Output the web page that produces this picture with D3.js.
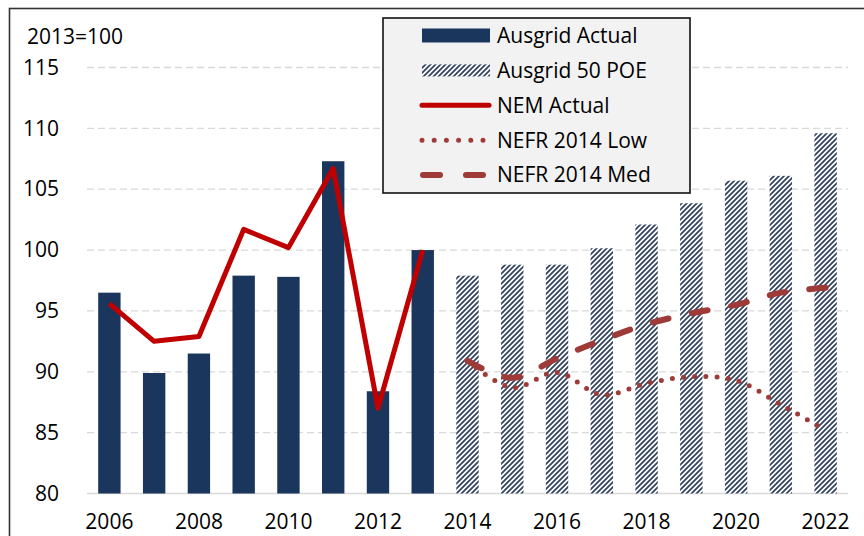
<!DOCTYPE html>
<html>
<head>
<meta charset="utf-8">
<script src="https://cdn.jsdelivr.net/npm/d3@7"></script>
<style>
  html, body { margin: 0; padding: 0; background: #ffffff; }
  svg { display: block; }
  text { font-family: "Open Sans", Lato, sans-serif; fill: #000; }
</style>
</head>
<body>
<svg id="chart" width="864" height="536"></svg>
<script>
// ---- data ----
const years = ["2006","2007","2008","2009","2010","2011","2012","2013","2014","2015","2016","2017","2018","2019","2020","2021","2022"];
const actualYears = ["2006","2007","2008","2009","2010","2011","2012","2013"];
const forecastYears = ["2014","2015","2016","2017","2018","2019","2020","2021","2022"];
const ausgridActual = [96.5, 89.9, 91.5, 97.9, 97.8, 107.3, 88.4, 100.0];
const ausgrid50POE = [97.9, 98.8, 98.8, 100.15, 102.1, 103.85, 105.7, 106.1, 109.6];
const nemActual = [95.6, 92.5, 92.9, 101.7, 100.2, 106.7, 87.0, 100.0];
const nefrLow = [90.9, 88.7, 89.95, 88.1, 89.05, 89.6, 89.3, 87.3, 85.2];
const nefrMed = [90.9, 89.5, 91.1, 92.6, 93.9, 94.8, 95.5, 96.5, 96.9];
const yTicks = [80, 85, 90, 95, 100, 105, 110, 115];
const xTickLabels = ["2006","2008","2010","2012","2014","2016","2018","2020","2022"];
const legendItems = ["Ausgrid Actual", "Ausgrid 50 POE", "NEM Actual", "NEFR 2014 Low", "NEFR 2014 Med"];

// ---- styles ----
const navy = "#1b365d";
const red = "#c00000";
const brown = "#9e3a38";
const FONT = "\"Open Sans\", Lato, sans-serif";
const FS = "21px";

const svg = d3.select("#chart");

// hatch pattern
const defs = svg.append("defs");
const pat = defs.append("pattern")
  .attr("id", "hatch")
  .attr("patternUnits", "userSpaceOnUse")
  .attr("width", 5).attr("height", 5);
pat.append("rect").attr("width", 5).attr("height", 5).attr("fill", "#ffffff");
pat.append("path")
  .attr("d", "M-1,1 l2,-2 M0,5 l5,-5 M4,6 l2,-2")
  .attr("stroke", "#34445e").attr("stroke-width", 1.8);

// outer frame
svg.append("rect")
  .attr("x", 9.5).attr("y", 8.5).attr("width", 900).attr("height", 600)
  .attr("fill", "none").attr("stroke", "#333").attr("stroke-width", 1.6);

// scales
const x = d3.scaleBand().domain(years).range([87, 848]).paddingInner(0.5).paddingOuter(0.25);
const y = d3.scaleLinear().domain([80, 115]).range([493.5, 67.5]);

// gridlines
svg.append("g").selectAll("line").data(yTicks).join("line")
  .attr("x1", 87).attr("x2", 848)
  .attr("y1", d => y(d)).attr("y2", d => y(d))
  .attr("stroke", "#d9d9d9").attr("stroke-width", 1.3)
  .attr("stroke-dasharray", d => d === 80 ? null : "7,4");

// y axis labels
const yAxis = d3.axisLeft(y).tickValues(yTicks).tickSize(0).tickPadding(0);
const gy = svg.append("g").attr("transform", "translate(59,0)").call(yAxis);
gy.select(".domain").remove();
gy.selectAll("text").style("font-size", FS).style("font-family", FONT).attr("fill", "#000");

// x axis labels
const xAxis = d3.axisBottom(x).tickValues(xTickLabels).tickSize(0).tickPadding(0);
const gx = svg.append("g").attr("transform", "translate(0,514)").call(xAxis);
gx.select(".domain").remove();
gx.selectAll("text").style("font-size", FS).style("font-family", FONT).attr("fill", "#000");

// title
svg.append("text").attr("x", 27).attr("y", 44).style("font-size", FS).style("font-family", FONT).text("2013=100");

// bars
svg.append("g").selectAll("rect").data(actualYears.map((yr, i) => ({yr, v: ausgridActual[i]}))).join("rect")
  .attr("x", d => x(d.yr)).attr("width", x.bandwidth())
  .attr("y", d => y(d.v)).attr("height", d => y(80) - y(d.v))
  .attr("fill", navy);
svg.append("g").selectAll("rect").data(forecastYears.map((yr, i) => ({yr, v: ausgrid50POE[i]}))).join("rect")
  .attr("x", d => x(d.yr)).attr("width", x.bandwidth())
  .attr("y", d => y(d.v)).attr("height", d => y(80) - y(d.v))
  .attr("fill", "url(#hatch)");

const cx = yr => x(yr) + x.bandwidth() / 2;

// NEM actual
const lineStraight = d3.line().x(d => cx(d.yr)).y(d => y(d.v));
svg.append("path")
  .datum(actualYears.map((yr, i) => ({yr, v: nemActual[i]})))
  .attr("d", lineStraight)
  .attr("fill", "none").attr("stroke", red).attr("stroke-width", 5)
  .attr("stroke-linejoin", "round");

// NEFR lines (smoothed)
const lineSmooth = d3.line().x(d => cx(d.yr)).y(d => y(d.v)).curve(d3.curveCatmullRom.alpha(0.5));
svg.append("path")
  .datum(forecastYears.map((yr, i) => ({yr, v: nefrLow[i]})))
  .attr("d", lineSmooth)
  .attr("fill", "none").attr("stroke", brown).attr("stroke-width", 5)
  .attr("stroke-linecap", "round").attr("stroke-dasharray", "0,11.2");
svg.append("path")
  .datum(forecastYears.map((yr, i) => ({yr, v: nefrMed[i]})))
  .attr("d", lineSmooth)
  .attr("fill", "none").attr("stroke", brown).attr("stroke-width", 6)
  .attr("stroke-linecap", "round").attr("stroke-dasharray", "16,24");

// legend
const lg = svg.append("g");
lg.append("rect").attr("x", 383).attr("y", 18).attr("width", 307).attr("height", 175)
  .attr("fill", "#f2f2f2").attr("stroke", "#111").attr("stroke-width", 1.6);
const rowY = i => 35.5 + i * 34.9;
lg.selectAll("text").data(legendItems).join("text")
  .attr("x", 497).attr("y", (d, i) => rowY(i)).attr("dy", "0.35em")
  .style("font-size", FS).style("font-family", FONT).text(d => d);
// swatches
lg.append("rect").attr("x", 422).attr("y", rowY(0) - 7).attr("width", 68).attr("height", 14).attr("fill", navy);
lg.append("rect").attr("x", 422).attr("y", rowY(1) - 6).attr("width", 68).attr("height", 12).attr("fill", "url(#hatch)");
lg.append("line").attr("x1", 422).attr("x2", 489).attr("y1", rowY(2)).attr("y2", rowY(2))
  .attr("stroke", red).attr("stroke-width", 5).attr("stroke-linecap", "round");
lg.append("line").attr("x1", 422).attr("x2", 490).attr("y1", rowY(3)).attr("y2", rowY(3))
  .attr("stroke", brown).attr("stroke-width", 5).attr("stroke-linecap", "round").attr("stroke-dasharray", "0,12.2");
lg.append("line").attr("x1", 423).attr("x2", 485).attr("y1", rowY(4)).attr("y2", rowY(4))
  .attr("stroke", brown).attr("stroke-width", 6).attr("stroke-linecap", "round").attr("stroke-dasharray", "17,26");
</script>
</body>
</html>
